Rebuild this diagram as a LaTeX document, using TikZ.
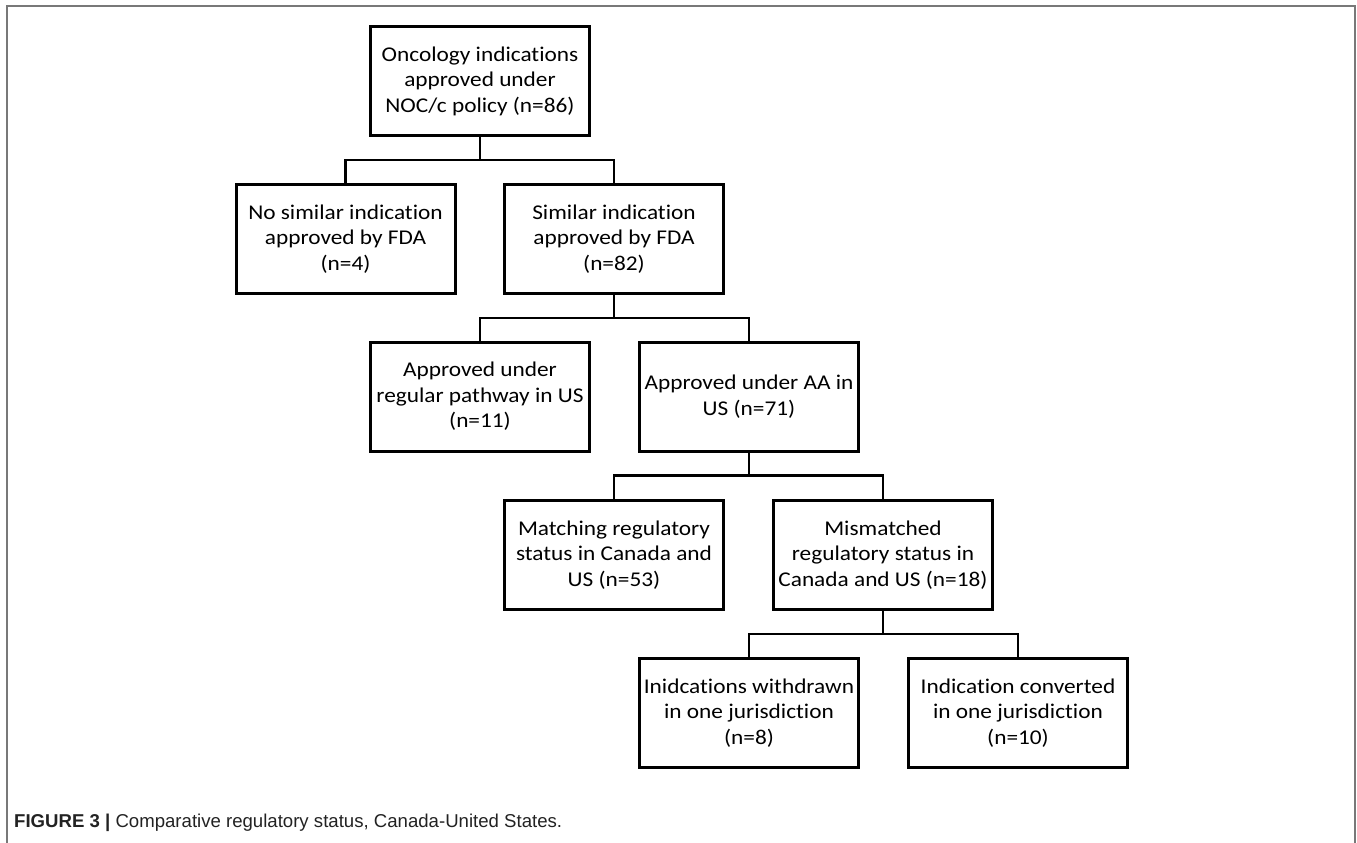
\documentclass[tikz,border=0pt]{standalone}
\usepackage{fontspec}
\usepackage{tikz}
\usetikzlibrary{calc}
\newfontfamily\boxfont[FakeStretch=1.11, Ligatures=NoCommon]{Carlito}
\newfontfamily\captfont{Liberation Sans}
\definecolor{colFRAME}{RGB}{120,120,120}
\definecolor{colCAPT}{RGB}{34,34,34}

\begin{document}
\begin{tikzpicture}[x=1pt, y=-1pt,
    box/.style={draw, line width=3pt, minimum width=219pt, minimum height=109pt,
      inner sep=2pt, align=center, font=\boxfont\fontsize{21}{25.5}\selectfont},
    link/.style={line width=2.6pt}]
      \useasboundingbox (0,0) rectangle (1357,843);
      % Outer frame (open at the bottom)
      \draw[colFRAME, line width=1.6pt] (7,843) -- (7,6) -- (1355,6) -- (1355,843);
      % Boxes
      \node[box] (top) at (480,81) {Oncology indications\\approved under\\NOC/c policy (n=86)};
      \node[box] (nosim) at (345.5,239) {No similar indication\\approved by FDA\\(n=4)};
      \node[box] (sim) at (614,239) {Similar indication\\approved by FDA\\(n=82)};
      \node[box] (regular) at (480,396.5) {Approved under\\regular pathway in US\\(n=11)};
      \node[box] (aa) at (749,396.5) {Approved under AA in\\US (n=71)};
      \node[box] (match) at (614,555) {Matching regulatory\\status in Canada and\\US (n=53)};
      \node[box] (mismatch) at (883,555) {Mismatched\\regulatory status in\\Canada and US (n=18)};
      \node[box] (withdrawn) at (749,713) {Inidcations withdrawn\\in one jurisdiction\\(n=8)};
      \node[box] (converted) at (1018,713) {Indication converted\\in one jurisdiction\\(n=10)};
      % Branches
      \draw[link] (top.south) -- ++(0,23) -| (nosim.north);
      \draw[link] (top.south) -- ++(0,23) -| (sim.north);
      \draw[link] (sim.south) -- ++(0,23) -| (regular.north);
      \draw[link] (sim.south) -- ++(0,23) -| (aa.north);
      \draw[link] (aa.south) -- ++(0,23) -| (match.north);
      \draw[link] (aa.south) -- ++(0,23) -| (mismatch.north);
      \draw[link] (mismatch.south) -- ++(0,23) -| (withdrawn.north);
      \draw[link] (mismatch.south) -- ++(0,23) -| (converted.north);
      % Caption
      \node[anchor=base west, inner sep=0pt, text=colCAPT, font=\captfont\fontsize{18.6}{22}\selectfont]
        (capt) at (14,827) {\textbf{FIGURE 3 |} Comparative regulatory status, Canada-United States.};
    \end{tikzpicture}
\end{document}
